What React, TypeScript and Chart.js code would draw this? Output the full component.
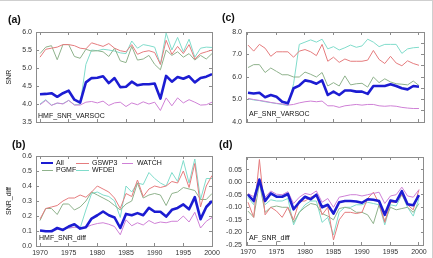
import React, { useEffect, useRef } from 'react';
import { Chart, registerables } from 'chart.js';

Chart.register(...registerables);

// ---------------- data ----------------
const years = [1970, 1971, 1972, 1973, 1974, 1975, 1976, 1977, 1978, 1979, 1980, 1981, 1982, 1983, 1984, 1985, 1986, 1987, 1988, 1989, 1990, 1991, 1992, 1993, 1994, 1995, 1996, 1997, 1998, 1999, 2000];
const xTickYears = [1970, 1975, 1980, 1985, 1990, 1995, 2000];

const yTicksA = [3.5, 4.0, 4.5, 5.0, 5.5, 6.0];
const yTicksB = [0.0, 0.1, 0.2, 0.3, 0.4, 0.5, 0.6];
const yTicksC = [4.0, 4.5, 5.0, 5.5, 6.0, 6.5, 7.0, 7.5, 8.0];
const yTicksD = [-0.25, -0.2, -0.15, -0.1, -0.05, 0.0, 0.05, 0.1];

const seriesNames = ['All', 'WATCH', 'GSWP3', 'PGMF', 'WFDEI'];

// (a) HMF_SNR_VARSOC
const allA = [4.27, 4.28, 4.30, 4.20, 4.30, 4.37, 4.12, 4.04, 4.60, 4.72, 4.73, 4.77, 4.58, 4.72, 4.47, 4.48, 4.62, 4.52, 4.55, 4.55, 4.57, 4.15, 4.78, 4.62, 4.75, 4.70, 4.77, 4.60, 4.72, 4.76, 4.83];
const watchA = [3.98, 4.10, 3.96, 4.03, 4.00, 4.10, 3.97, 3.97, 4.05, 4.07, 4.03, 4.08, 3.96, 4.03, 4.05, 3.93, 4.03, 3.98, 4.06, 4.00, 4.05, 3.82, 4.17, 3.95, 4.17, 4.03, 4.12, 4.05, 3.97, 3.98, 4.05];
const gswp3A = [5.30, 5.52, 5.55, 5.58, 5.65, 5.65, 5.62, 5.55, 5.53, 5.70, 5.65, 5.60, 5.68, 5.55, 5.48, 5.45, 5.65, 5.38, 5.45, 5.48, 5.43, 5.10, 5.77, 5.38, 5.60, 5.40, 5.65, 5.25, 5.40, 5.45, 5.50];
const pgmfA = [5.40, 5.58, 5.62, 5.23, 5.65, 5.65, 5.32, 5.27, 5.52, 5.47, 5.48, 5.45, 5.32, 5.55, 5.20, 5.15, 5.60, 5.22, 5.25, 5.35, 5.10, 4.95, 5.50, 5.35, 5.45, 5.30, 5.40, 5.22, 5.35, 5.25, 5.40];
const wfdeiA = [4.00, 4.12, 3.97, 4.02, 4.01, 4.10, 3.98, 3.99, 5.10, 5.50, 5.48, 5.52, 5.50, 5.47, 5.42, 5.40, 5.75, 5.55, 5.65, 5.62, 5.58, 5.10, 5.97, 5.50, 5.85, 5.45, 5.80, 5.30, 5.55, 5.58, 5.57];

// (b) HMF_SNR_diff
const allB = [0.103, 0.098, 0.098, 0.12, 0.107, 0.13, 0.145, 0.116, 0.125, 0.183, 0.205, 0.23, 0.205, 0.19, 0.12, 0.214, 0.205, 0.219, 0.205, 0.254, 0.228, 0.228, 0.196, 0.241, 0.254, 0.277, 0.245, 0.326, 0.179, 0.26, 0.30];
const watchB = [0.10, 0.098, 0.105, 0.11, 0.11, 0.12, 0.125, 0.12, 0.125, 0.14, 0.15, 0.155, 0.145, 0.13, 0.075, 0.175, 0.135, 0.155, 0.14, 0.17, 0.15, 0.16, 0.155, 0.165, 0.165, 0.20, 0.16, 0.225, 0.12, 0.165, 0.19];
const gswp3B = [0.18, 0.25, 0.26, 0.27, 0.30, 0.32, 0.32, 0.34, 0.325, 0.36, 0.40, 0.38, 0.36, 0.32, 0.25, 0.35, 0.33, 0.44, 0.33, 0.38, 0.40, 0.39, 0.40, 0.43, 0.42, 0.50, 0.39, 0.55, 0.26, 0.40, 0.47];
const pgmfB = [0.17, 0.25, 0.25, 0.21, 0.28, 0.28, 0.24, 0.26, 0.30, 0.36, 0.34, 0.32, 0.30, 0.27, 0.24, 0.28, 0.30, 0.42, 0.32, 0.34, 0.35, 0.34, 0.27, 0.35, 0.36, 0.39, 0.38, 0.37, 0.31, 0.31, 0.35];
const wfdeiB = [0.10, 0.10, 0.105, 0.11, 0.11, 0.12, 0.125, 0.12, 0.24, 0.35, 0.36, 0.34, 0.33, 0.30, 0.19, 0.40, 0.36, 0.42, 0.41, 0.49, 0.45, 0.42, 0.40, 0.49, 0.43, 0.57, 0.42, 0.58, 0.31, 0.45, 0.45];

// (c) AF_SNR_VARSOC
const allC = [5.30, 5.27, 5.30, 5.10, 5.20, 5.12, 4.90, 4.83, 5.50, 5.62, 5.85, 5.80, 5.70, 5.85, 5.20, 5.35, 5.20, 5.40, 5.40, 5.35, 5.35, 5.25, 5.60, 5.60, 5.60, 5.68, 5.60, 5.50, 5.45, 5.60, 5.57];
const watchC = [5.05, 5.00, 4.96, 4.92, 4.87, 4.83, 4.80, 4.75, 4.78, 4.85, 4.90, 4.93, 4.90, 4.93, 4.72, 4.72, 4.65, 4.72, 4.75, 4.78, 4.75, 4.78, 4.78, 4.72, 4.70, 4.72, 4.70, 4.65, 4.62, 4.60, 4.60];
const gswp3C = [7.42, 7.15, 7.45, 7.28, 6.92, 7.12, 7.12, 7.12, 6.88, 7.15, 7.22, 7.12, 6.95, 7.45, 6.70, 6.88, 6.65, 6.80, 6.70, 6.70, 6.70, 6.75, 7.18, 6.78, 6.60, 6.92, 6.62, 6.50, 6.72, 6.60, 6.52];
const pgmfC = [6.42, 6.55, 6.55, 6.20, 6.40, 6.25, 6.10, 6.10, 6.00, 6.00, 6.22, 6.12, 6.00, 6.20, 5.60, 5.75, 5.60, 6.05, 5.65, 5.70, 5.72, 5.55, 6.00, 5.75, 5.92, 5.78, 5.70, 5.68, 5.65, 5.82, 5.62];
const wfdeiC = [5.03, 4.98, 4.95, 4.90, 4.86, 4.82, 4.78, 4.73, 5.70, 7.45, 7.55, 7.65, 7.55, 7.68, 7.25, 7.35, 7.20, 7.30, 7.42, 7.32, 7.38, 7.68, 7.55, 7.35, 7.45, 7.45, 7.45, 7.05, 7.25, 7.30, 7.32];

// (d) AF_SNR_diff
const allD = [-0.05, -0.075, 0.01, -0.075, -0.045, -0.058, -0.058, -0.047, -0.108, -0.08, -0.058, -0.068, -0.05, -0.10, -0.09, -0.125, -0.08, -0.075, -0.075, -0.077, -0.082, -0.068, -0.07, -0.075, -0.13, -0.073, -0.078, -0.036, -0.088, -0.092, -0.052];
const watchD = [-0.045, -0.058, 0.005, -0.06, -0.035, -0.048, -0.05, -0.038, -0.085, -0.06, -0.045, -0.05, -0.035, -0.08, -0.065, -0.10, -0.06, -0.055, -0.05, -0.05, -0.055, -0.05, -0.045, -0.04, -0.085, -0.055, -0.05, -0.02, -0.055, -0.06, -0.03];
const gswp3D = [-0.08, -0.14, 0.09, -0.13, -0.10, -0.115, -0.14, -0.10, -0.15, -0.075, -0.075, -0.06, -0.05, -0.13, -0.10, -0.23, -0.15, -0.12, -0.12, -0.125, -0.12, -0.065, -0.04, -0.085, -0.16, -0.08, -0.08, -0.05, -0.09, -0.11, -0.03];
const pgmfD = [-0.115, -0.14, -0.005, -0.12, -0.10, -0.095, -0.10, -0.10, -0.16, -0.12, -0.10, -0.085, -0.09, -0.125, -0.135, -0.15, -0.105, -0.10, -0.105, -0.12, -0.12, -0.13, -0.165, -0.09, -0.155, -0.10, -0.11, -0.105, -0.10, -0.12, -0.085];
const wfdeiD = [-0.06, -0.09, 0.0, -0.09, -0.07, -0.075, -0.075, -0.065, -0.17, -0.12, -0.09, -0.075, -0.075, -0.16, -0.14, -0.21, -0.12, -0.10, -0.10, -0.09, -0.09, -0.08, -0.085, -0.09, -0.17, -0.09, -0.095, -0.05, -0.10, -0.135, -0.065];

// ---------------- styles ----------------
const COLORS: Record<string, string> = {
  All: '#1c1cd2',
  WATCH: '#cf80d6',
  GSWP3: '#e57c7e',
  PGMF: '#8fb28c',
  WFDEI: '#80dccb',
};
const WIDTHS: Record<string, number> = { All: 2.6, WATCH: 1, GSWP3: 1, PGMF: 1, WFDEI: 1 };
const FONT = '"Liberation Sans", Arial, sans-serif';
const FRAME = '#8c8c8c';
const W = 433;
const H = 258;

type Panel = {
  series: number[][];
  yMin: number;
  yMax: number;
  yTicks: number[];
  dec: number;
  hide: number[];
  xMin: number;
  xMax: number;
  showX: boolean;
  area: { left: number; right: number; top: number; bottom: number };
  yWidth: number;
  yTitle?: string;
  zeroLine?: boolean;
};

const panels: Panel[] = [
  {
    series: [allA, watchA, gswp3A, pgmfA, wfdeiA],
    yMin: 3.5, yMax: 6.0, yTicks: yTicksA, dec: 1, hide: [],
    xMin: 1969.3, xMax: 2000, showX: false,
    area: { left: 36, right: 212, top: 32, bottom: 122 }, yWidth: 36, yTitle: 'SNR',
  },
  {
    series: [allB, watchB, gswp3B, pgmfB, wfdeiB],
    yMin: 0, yMax: 0.6, yTicks: yTicksB, dec: 1, hide: [],
    xMin: 1969.3, xMax: 2000, showX: true,
    area: { left: 36, right: 212, top: 156, bottom: 246 }, yWidth: 36, yTitle: 'SNR_diff',
  },
  {
    series: [allC, watchC, gswp3C, pgmfC, wfdeiC],
    yMin: 4.0, yMax: 8.0, yTicks: yTicksC, dec: 1, hide: [],
    xMin: 1969.65, xMax: 2000.88, showX: false,
    area: { left: 246, right: 424, top: 32, bottom: 122 }, yWidth: 30,
  },
  {
    series: [allD, watchD, gswp3D, pgmfD, wfdeiD],
    yMin: -0.25, yMax: 0.1, yTicks: yTicksD, dec: 2, hide: [0.1],
    xMin: 1969.65, xMax: 2000.88, showX: true,
    area: { left: 246, right: 424, top: 157, bottom: 245 }, yWidth: 30, zeroLine: true,
  },
];

function buildConfig(p: Panel): any {
  const xHeight = p.showX ? 12 : 0;
  const tickFont = { family: FONT, size: 7 };
  const grid = {
    display: true,
    drawOnChartArea: false,
    drawTicks: true,
    tickLength: -3,
    tickColor: FRAME,
    tickWidth: 1,
  };
  const border = { display: true, color: FRAME, width: 1 };
  const setX = (ax: any) => { ax.ticks = xTickYears.map((v) => ({ value: v })); };
  const setY = (ax: any) => { ax.ticks = p.yTicks.map((v) => ({ value: v })); };

  const scales: any = {
    x: {
      type: 'linear', position: 'bottom', min: p.xMin, max: p.xMax,
      afterBuildTicks: setX,
      afterFit: (s: any) => { s.height = xHeight; },
      grid, border,
      ticks: {
        display: p.showX, autoSkip: false, maxRotation: 0, padding: 6,
        font: tickFont, color: '#333',
        callback: (v: any) => String(v),
      },
    },
    xTop: {
      type: 'linear', position: 'top', min: p.xMin, max: p.xMax,
      afterBuildTicks: setX,
      afterFit: (s: any) => { s.height = 0; },
      grid, border,
      ticks: { display: false },
    },
    y: {
      type: 'linear', position: 'left', min: p.yMin, max: p.yMax,
      afterBuildTicks: setY,
      afterFit: (s: any) => { s.width = p.yWidth; },
      grid, border,
      ticks: {
        padding: 7, font: tickFont, color: '#333',
        callback: (v: any) => (p.hide.some((h) => Math.abs(h - v) < 1e-9) ? '' : Number(v).toFixed(p.dec)),
      },
      title: p.yTitle
        ? { display: true, text: p.yTitle, font: { family: FONT, size: 7 }, color: '#222', padding: { top: 5, bottom: 0 } }
        : { display: false },
    },
    yRight: {
      type: 'linear', position: 'right', min: p.yMin, max: p.yMax,
      afterBuildTicks: setY,
      afterFit: (s: any) => { s.width = 0; },
      grid, border,
      ticks: { display: false },
    },
  };
  if (p.zeroLine) {
    scales.yZero = {
      type: 'linear', position: 'right', min: p.yMin, max: p.yMax,
      afterBuildTicks: (ax: any) => { ax.ticks = [{ value: 0 }]; },
      afterFit: (s: any) => { s.width = 0; },
      grid: { display: true, drawOnChartArea: true, drawTicks: false, color: '#777', lineWidth: 1 },
      border: { display: false, dash: [1, 2] },
      ticks: { display: false },
    };
  }

  return {
    type: 'line',
    data: {
      datasets: p.series.map((vals, i) => {
        const name = seriesNames[i];
        return {
          label: name,
          data: years.map((yr, j) => ({ x: yr, y: vals[j] })),
          borderColor: COLORS[name],
          backgroundColor: COLORS[name],
          borderWidth: WIDTHS[name],
          pointRadius: 0,
          tension: 0,
          fill: false,
          borderJoinStyle: 'round',
          xAxisID: 'x',
          yAxisID: 'y',
        };
      }),
    },
    options: {
      responsive: false,
      animation: false,
      events: [],
      layout: {
        padding: {
          left: p.area.left - p.yWidth,
          right: W - p.area.right,
          top: p.area.top,
          bottom: H - p.area.bottom - xHeight,
        },
      },
      plugins: { legend: { display: false }, tooltip: { enabled: false } },
      scales,
    },
  };
}

function PanelCanvas({ p }: { p: Panel }) {
  const ref = useRef<HTMLCanvasElement | null>(null);
  useEffect(() => {
    if (!ref.current) return;
    const chart = new Chart(ref.current, buildConfig(p));
    return () => chart.destroy();
  }, [p]);
  return (
    <canvas
      ref={ref}
      width={W}
      height={H}
      style={{ position: 'absolute', left: 0, top: 0, width: W, height: H }}
    />
  );
}

function Txt({ s, x, cy, size, bold }: { s: string; x: number; cy: number; size: number; bold?: boolean }) {
  return (
    <div
      style={{
        position: 'absolute', left: x, top: cy - size * 0.6, fontSize: size,
        lineHeight: `${size * 1.2}px`, fontFamily: FONT, fontWeight: bold ? 'bold' : 'normal',
        color: '#111', whiteSpace: 'nowrap',
      }}
    >
      {s}
    </div>
  );
}

function Swatch({ name, x1, x2, cy }: { name: string; x1: number; x2: number; cy: number }) {
  const lw = WIDTHS[name];
  return (
    <div
      style={{
        position: 'absolute', left: x1, top: cy - lw / 2, width: x2 - x1, height: lw,
        background: COLORS[name],
      }}
    />
  );
}

export default function App() {
  return (
    <div style={{ position: 'fixed', left: 0, top: 0, width: W, height: H, background: '#fff', overflow: 'hidden' }}>
      {panels.map((p, i) => (
        <PanelCanvas key={i} p={p} />
      ))}
      <div style={{ position: 'absolute', left: 0, top: 0, width: W, height: 1, background: '#cfcfcf' }} />
      <div style={{ position: 'absolute', left: W - 1, top: 0, width: 1, height: H, background: '#cfcfcf' }} />

      <Txt s="(a)" x={8} cy={19} size={10.5} bold />
      <Txt s="(c)" x={222} cy={17} size={10.5} bold />
      <Txt s="(b)" x={12} cy={144.5} size={10.5} bold />
      <Txt s="(d)" x={219} cy={144} size={10.5} bold />

      <Txt s="HMF_SNR_VARSOC" x={38} cy={116} size={7} />
      <Txt s="AF_SNR_VARSOC" x={249} cy={114} size={7} />
      <Txt s="HMF_SNR_diff" x={39} cy={238} size={7} />
      <Txt s="AF_SNR_diff" x={249} cy={238} size={7} />

      <Swatch name="All" x1={41} x2={53} cy={163} />
      <Txt s="All" x={56} cy={163} size={7} />
      <Swatch name="GSWP3" x1={76} x2={89} cy={163} />
      <Txt s="GSWP3" x={92} cy={163} size={7} />
      <Swatch name="WATCH" x1={122} x2={133} cy={163} />
      <Txt s="WATCH" x={137} cy={163} size={7} />
      <Swatch name="PGMF" x1={42} x2={53} cy={170.5} />
      <Txt s="PGMF" x={56} cy={170.5} size={7} />
      <Swatch name="WFDEI" x1={76} x2={89} cy={170.5} />
      <Txt s="WFDEI" x={92} cy={170.5} size={7} />
    </div>
  );
}
